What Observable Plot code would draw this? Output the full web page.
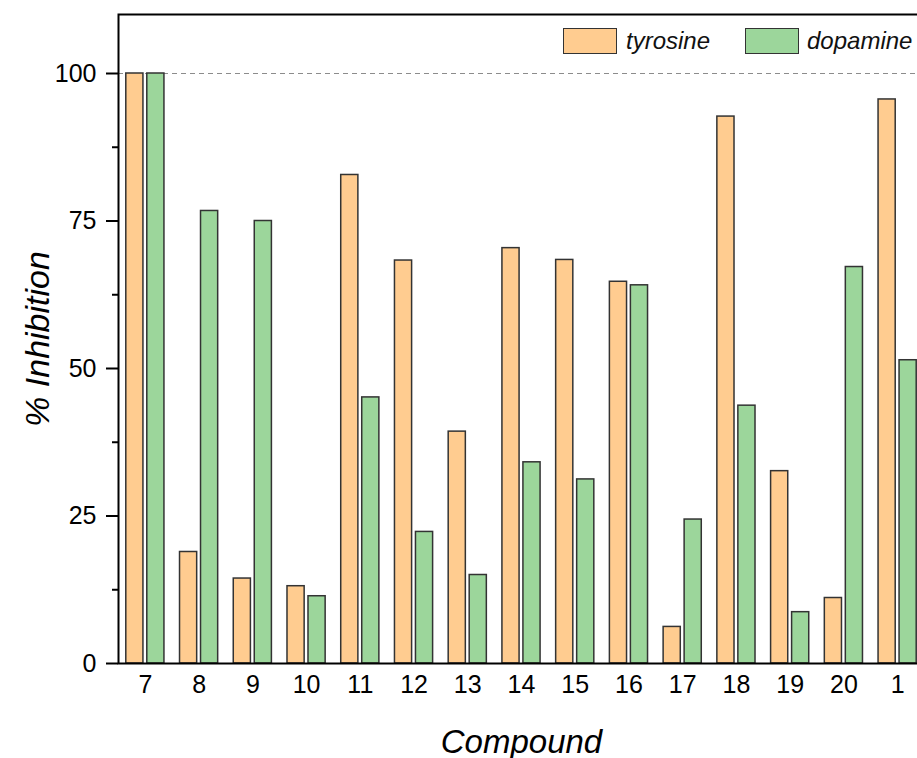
<!DOCTYPE html>
<html>
<head>
<meta charset="utf-8">
<script src="https://cdn.jsdelivr.net/npm/d3@7"></script>
<script src="https://cdn.jsdelivr.net/npm/@observablehq/plot@0.6"></script>
<style>
  html, body { margin: 0; padding: 0; background: white; overflow: hidden; }
  #wrap { position: relative; width: 917px; height: 758px; overflow: hidden; font-family: "Liberation Sans", Arial, sans-serif; }
  #legend { position: absolute; left: 0; top: 0; width: 917px; height: 70px; pointer-events: none; }
  .sw { position: absolute; top: 28px; width: 52px; height: 24px; border: 1.5px solid #333; }
  .lt { position: absolute; top: 26px; font-size: 24px; font-style: italic; line-height: 30px; color: #111; }
</style>
</head>
<body>
<div id="wrap">
  <div id="chart"></div>
  <div id="legend">
    <div class="sw" style="left:563px;background:#FFCC90"></div>
    <div class="lt" style="left:626px">tyrosine</div>
    <div class="sw" style="left:745px;background:#9CD69B"></div>
    <div class="lt" style="left:807px">dopamine</div>
  </div>
</div>
<script>
const compounds = ["7","8","9","10","11","12","13","14","15","16","17","18","19","20","1"];
const tyrosine = [100, 18.9, 14.4, 13.1, 82.8, 68.3, 39.3, 70.4, 68.4, 64.7, 6.2, 92.7, 32.6, 11.1, 95.6];
const dopamine = [100, 76.7, 75.0, 11.4, 45.1, 22.3, 15.0, 34.1, 31.2, 64.1, 24.4, 43.7, 8.7, 67.2, 51.4];
const majorTicks = [0, 25, 50, 75, 100];
const minorTicks = [12.5, 37.5, 62.5, 87.5];

const rows = compounds.map((c, i) => ({compound: c, tyrosine: tyrosine[i], dopamine: dopamine[i]}));

const chart = Plot.plot({
  width: 924,
  height: 758,
  marginLeft: 118,
  marginRight: 0,
  marginTop: 14,
  marginBottom: 95,
  style: {fontFamily: "'Liberation Sans', Arial, sans-serif", color: "black", background: "white", maxWidth: "none", overflow: "visible"},
  x: {domain: compounds, paddingInner: 0.29, paddingOuter: 0.145, round: false},
  y: {domain: [0, 110]},
  marks: [
    Plot.ruleY([100], {stroke: "#8c8c8c", strokeWidth: 1.2, strokeDasharray: "5,4"}),
    Plot.barY(rows, {x: "compound", y: "tyrosine", fill: "#FFCC90", stroke: "#333", strokeWidth: 1.5, insetRight: 21}),
    Plot.barY(rows, {x: "compound", y: "dopamine", fill: "#9CD69B", stroke: "#333", strokeWidth: 1.5, insetLeft: 21}),
    Plot.frame({stroke: "black", strokeWidth: 2}),
    Plot.axisY(majorTicks, {tickSize: 12, tickPadding: 10, fontSize: 25, strokeWidth: 2, label: null}),
    Plot.axisY(minorTicks, {tickSize: 6, strokeWidth: 2, tickFormat: () => "", label: null}),
    Plot.axisY([], {label: "% Inhibition", labelAnchor: "center", labelOffset: 94, labelArrow: "none", fontSize: 34, fontStyle: "italic", tickSize: 0}),
    Plot.axisX({tickSize: 0, tickPadding: 12, fontSize: 25, label: null}),
    Plot.axisX([], {label: "Compound", labelAnchor: "center", labelOffset: 89, labelArrow: "none", fontSize: 33, fontStyle: "italic", tickSize: 0})
  ]
});
document.getElementById("chart").appendChild(chart);
d3.select(chart).selectAll('g[aria-label$="axis label"]').attr("font-style", "italic");
</script>
</body>
</html>
